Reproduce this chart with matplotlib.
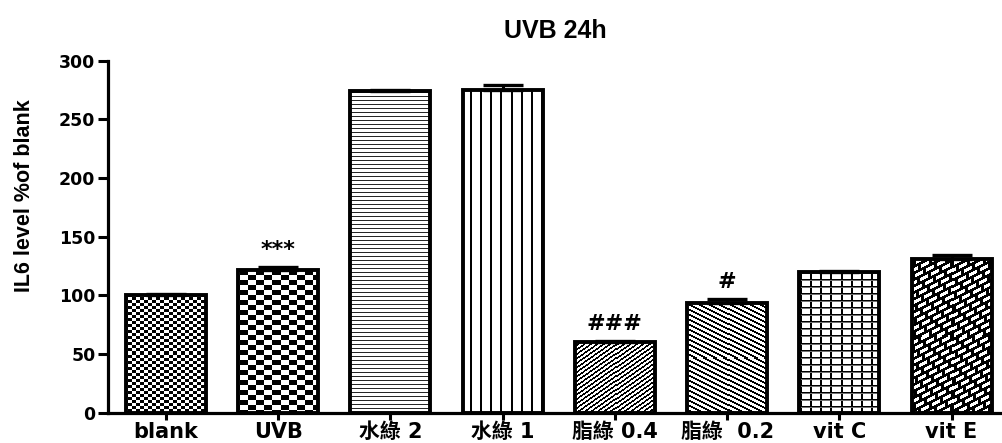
import numpy as np
import matplotlib
matplotlib.use("Agg")
import matplotlib.pyplot as plt
from matplotlib import font_manager as fm

# ---- data -------------------------------------------------------------
categories = ["blank", "UVB", "水綠 2", "水綠 1", "脂綠 0.4", "脂綠  0.2", "vit C", "vit E"]
il6_level = [100, 121.8, 274.2, 275.0, 60.3, 93.8, 120.3, 130.8]
il6_sem = [0.8, 2.3, 1.0, 4.3, 0.8, 3.2, 0.8, 3.4]
significance = ["", "***", "", "", "###", "#", "", ""]
y_ticks = [0, 50, 100, 150, 200, 250, 300]

# ---- fonts ------------------------------------------------------------
installed = {f.name for f in fm.fontManager.ttflist}
label_family = ["DejaVu Sans", "Noto Sans CJK TC"]
ylabel_family = "Liberation Sans Narrow" if "Liberation Sans Narrow" in installed else "Liberation Sans"
ylabel_size = 18 if ylabel_family == "Liberation Sans Narrow" else 15.5

W, H = 1002, 443
fig = plt.figure(figsize=(W / 100, H / 100), dpi=100)
ax = fig.add_axes([108 / W, 30.3 / H, (W - 108) / W, 352 / H])

x = np.arange(len(categories))
bar_w = 0.713
ax.set_xlim(-0.517, 7.45)
ax.set_ylim(0, 300)


# ---- fill textures (pixel patterns, anchored to the canvas) -----------
def tex_fine_checker(I, J):
    return ((J // 4 + I // 3) % 2).astype(float)


def tex_coarse_checker(I, J):
    return ((J // 8 + I // 5) % 2).astype(float)


def tex_hlines(I, J):
    return np.where(I % 4 == 0, 0.15, 1.0)


def tex_vlines(I, J):
    return np.where(J % 10 < 2, 0.0, 1.0)


def tex_fwd_diag(I, J):
    u = I + 0.7 * J
    return np.where(u % 4.5 < 2.0, 0.0, 1.0)


def tex_back_diag(I, J):
    u = I - 0.5 * J
    return np.where(u % 5.0 < 2.0, 0.0, 1.0)


def tex_grid(I, J):
    v = np.ones(np.broadcast(I, J).shape)
    v = np.where(J % 10 < 2, 0.0, v)
    v = np.where(I % 7 == 0, 0.0, v)
    v = np.where(I % 7 == 1, 0.45, v)
    return v


def tex_bricks(I, J):
    u = I + 0.5 * J
    band = np.floor(u / 6.5)
    black = (u % 6.5 < 3.0) | ((J + 6 * band) % 11 < 3)
    return np.where(black, 0.0, 1.0)


textures = [tex_fine_checker, tex_coarse_checker, tex_hlines, tex_vlines,
            tex_fwd_diag, tex_back_diag, tex_grid, tex_bricks]

for xi, val, tex in zip(x, il6_level, textures):
    x0, x1 = xi - bar_w / 2, xi + bar_w / 2
    (px0, py0), (px1, py1) = ax.transData.transform([(x0, 0), (x1, val)])
    w_px = max(int(round(px1 - px0)), 1)
    h_px = max(int(round(py1 - py0)), 1)
    cols = np.arange(w_px) + int(round(px0))
    rows = np.arange(h_px) + int(round(H - py1))
    J, I = np.meshgrid(cols, rows)
    ax.imshow(tex(I, J), extent=(x0, x1, 0, val), cmap="gray", vmin=0, vmax=1,
              interpolation="nearest", aspect="auto", zorder=1)

ax.set_xlim(-0.517, 7.45)
ax.set_ylim(0, 300)

# ---- bars and error bars ---------------------------------------------
ax.bar(x, il6_level, width=bar_w, facecolor="none", edgecolor="black",
       linewidth=2.8, zorder=2)
ax.errorbar(x, il6_level, yerr=[np.zeros(len(x)), il6_sem], fmt="none",
            ecolor="black", elinewidth=2.2, capsize=14.5, capthick=2.4, zorder=3)

for xi, val, err, mark in zip(x, il6_level, il6_sem, significance):
    if mark:
        ax.annotate(mark, (xi, val + err), xytext=(0, 5), textcoords="offset points",
                    ha="center", va="bottom", fontsize=16, fontweight="bold",
                    family="DejaVu Sans", zorder=4)

# ---- axes styling -----------------------------------------------------
for side in ("top", "right"):
    ax.spines[side].set_visible(False)
for side in ("left", "bottom"):
    ax.spines[side].set_linewidth(2.3)
    ax.spines[side].set_capstyle("projecting")

ax.set_yticks(y_ticks)
ax.set_yticklabels([str(t) for t in y_ticks])
ax.tick_params(axis="y", length=7, width=2.2, pad=2, labelsize=12.5)
ax.set_xticks(x)
ax.set_xticklabels(categories)
ax.tick_params(axis="x", length=5, width=2.2, pad=2, labelsize=15)
for lab in ax.get_yticklabels():
    lab.set_fontweight("bold")
    lab.set_family("DejaVu Sans")
for lab in ax.get_xticklabels():
    lab.set_fontweight("bold")
    lab.set_family(label_family)

fig.text(25 / W, 1 - 195.5 / H, "IL6 level %of blank", rotation=90,
         ha="center", va="center", fontsize=ylabel_size, fontweight="bold",
         family=ylabel_family)
fig.text(555 / W, 1 - 31 / H, "UVB 24h", ha="center", va="center",
         fontsize=18, fontweight="bold", family="Liberation Sans")

fig.savefig("out.png", dpi=100)
